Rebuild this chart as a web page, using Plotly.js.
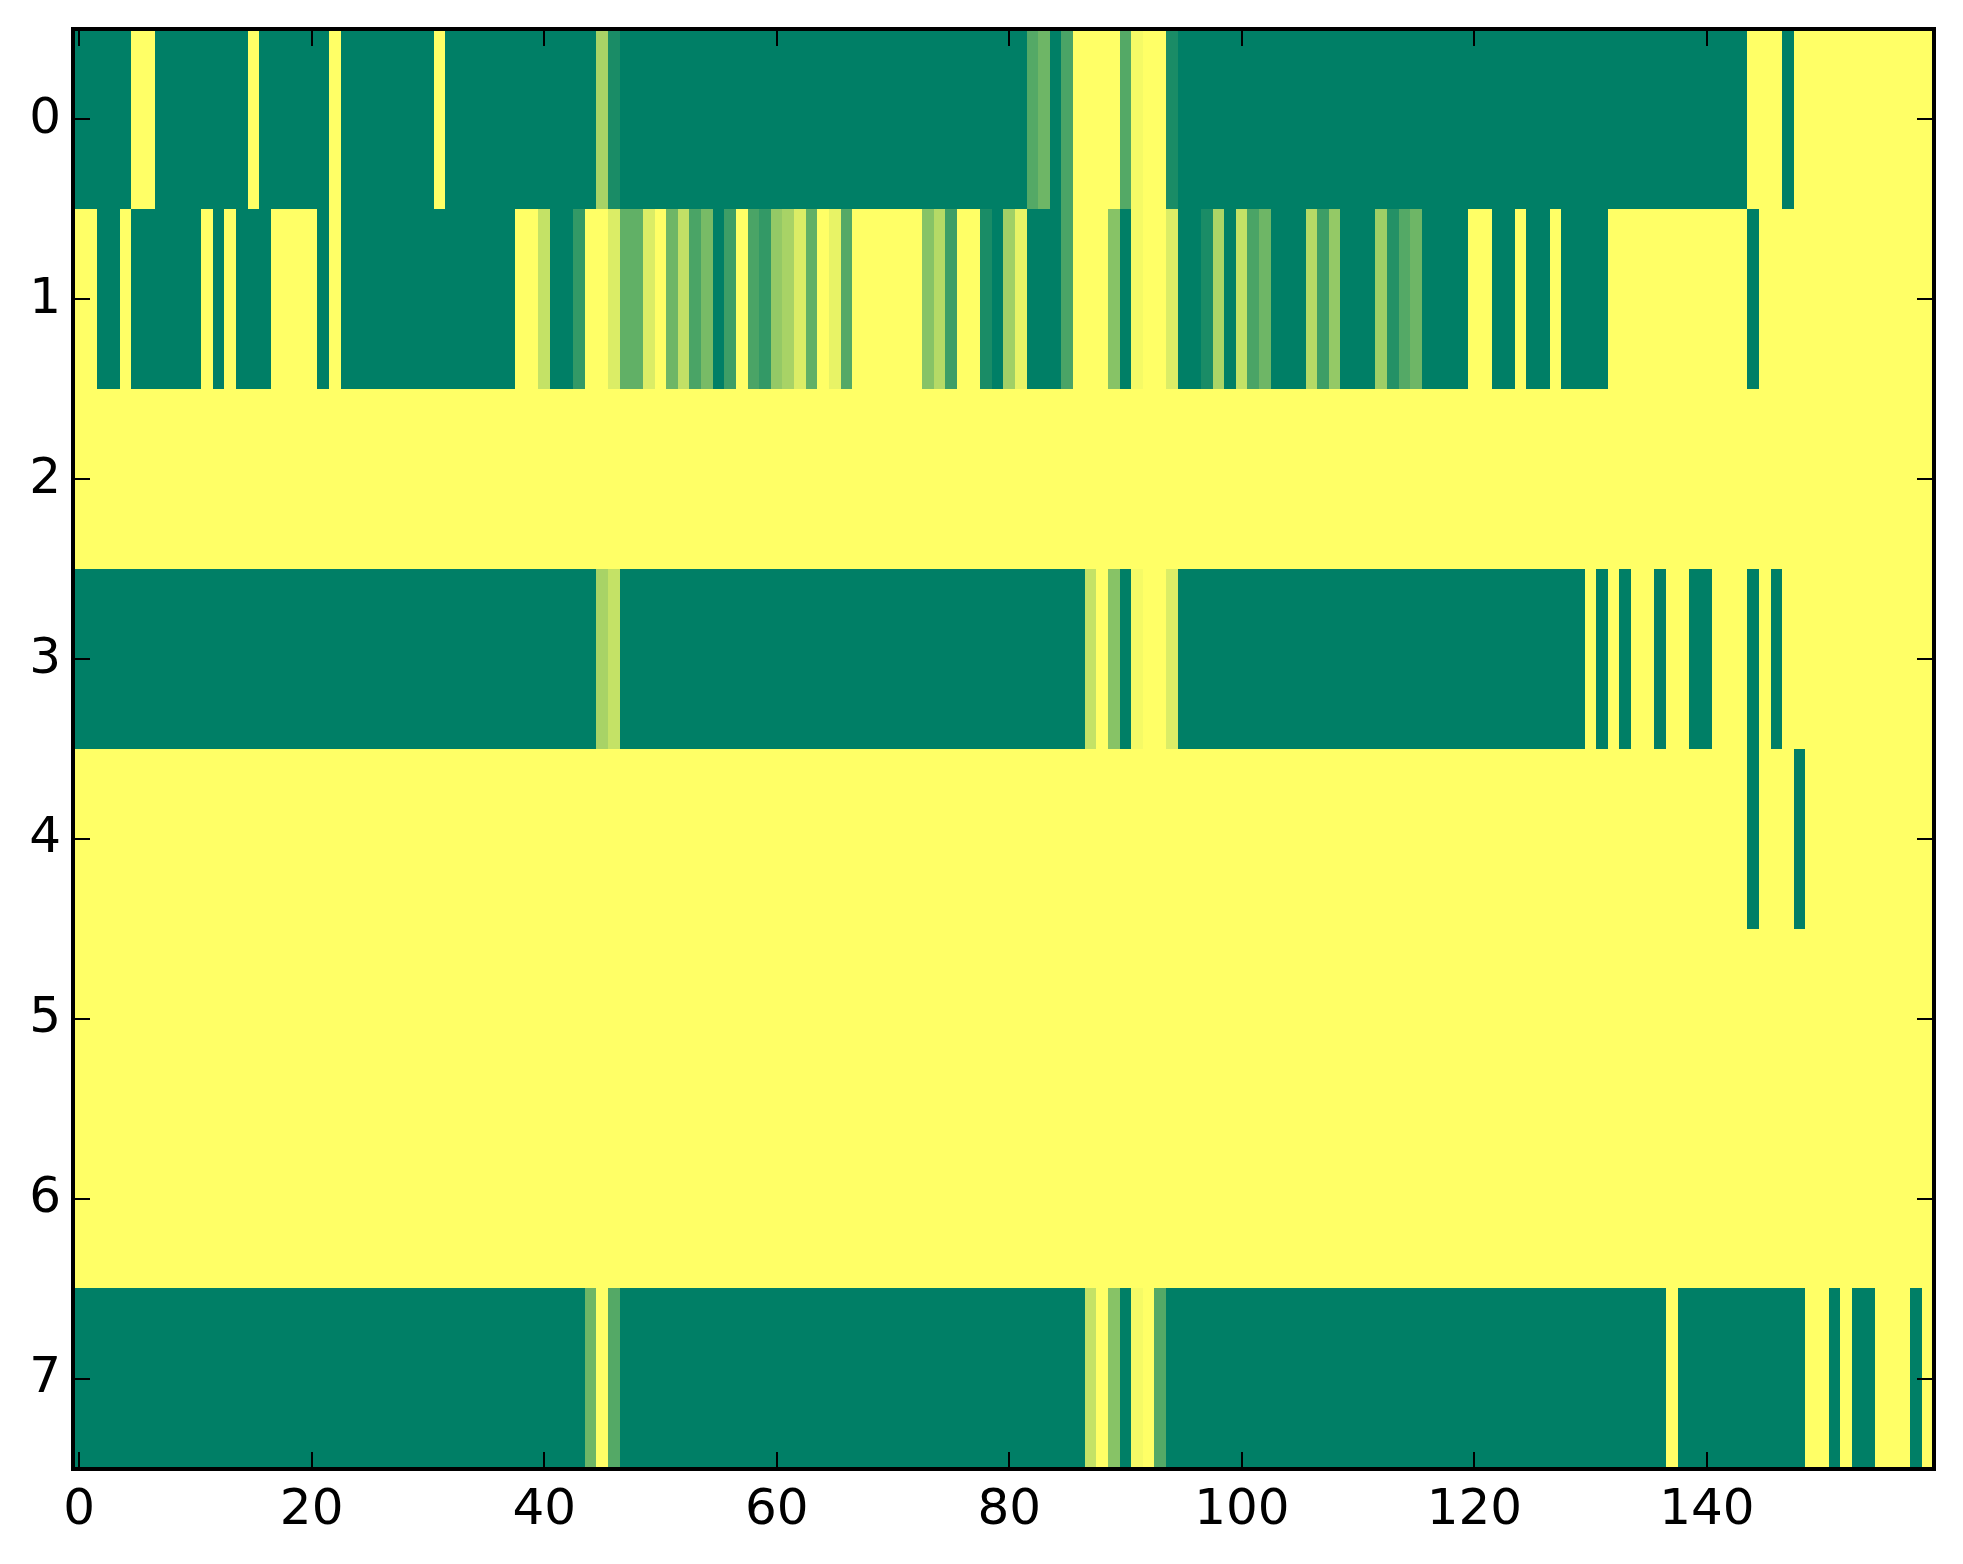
<!DOCTYPE html>
<html>
<head>
<meta charset="utf-8">
<script src="https://cdn.plot.ly/plotly-3.0.1.min.js"></script>
<style>html,body{margin:0;padding:0;background:#fff}</style>
</head>
<body>
<div id="chart" style="width:1963px;height:1564px"></div>
<script>
var row0 = [
0,0,0,0,0,1,1,0,0,0, 0,0,0,0,0,1,0,0,0,0, 0,0,1,0,0,0,0,0,0,0, 0,1,0,0,0,0,0,0,0,0,
0,0,0,0,0,.66,.10,0,0,0, 0,0,0,0,0,0,0,0,0,0, 0,0,0,0,0,0,0,0,0,0, 0,0,0,0,0,0,0,0,0,0,
0,0,.33,.43,0,.29,1,1,1,1, .33,.96,1,1,.10,0,0,0,0,0, 0,0,0,0,0,0,0,0,0,0, 0,0,0,0,0,0,0,0,0,0,
0,0,0,0,0,0,0,0,0,0, 0,0,0,0,0,0,0,0,0,0, 0,0,0,0,1,1,1,0,1,1, 1,1,1,1,1,1,1,1,1,1];
var row1 = [
1,1,0,0,1,0,0,0,0,0, 0,1,0,1,0,0,0,1,1,1, 1,0,1,0,0,0,0,0,0,0, 0,0,0,0,0,0,0,0,1,1,
.77,0,0,.2,1,1,.86,.38,.38,.86, 1,.43,.76,.29,.47,0,.24,1,.29,.2, .58,.66,.86,.38,1,.91,.33,1,1,1, 1,1,1,.53,.71,.24,1,1,.10,0,
.63,.91,0,0,0,.29,1,1,1,.53, 0,.96,1,1,.86,0,0,.10,.67,0, .77,.29,.43,0,0,0,.71,.24,.58,0, 0,0,.62,.14,.33,.43,0,0,0,0,
1,1,0,0,1,0,0,1,0,0, 0,0,1,1,1,1,1,1,1,1, 1,1,1,1,0,1,1,1,1,1, 1,1,1,1,1,1,1,1,1,1];
var row2 = [
1,1,1,1,1,1,1,1,1,1, 1,1,1,1,1,1,1,1,1,1, 1,1,1,1,1,1,1,1,1,1, 1,1,1,1,1,1,1,1,1,1,
1,1,1,1,1,1,1,1,1,1, 1,1,1,1,1,1,1,1,1,1, 1,1,1,1,1,1,1,1,1,1, 1,1,1,1,1,1,1,1,1,1,
1,1,1,1,1,1,1,1,1,1, 1,1,1,1,1,1,1,1,1,1, 1,1,1,1,1,1,1,1,1,1, 1,1,1,1,1,1,1,1,1,1,
1,1,1,1,1,1,1,1,1,1, 1,1,1,1,1,1,1,1,1,1, 1,1,1,1,1,1,1,1,1,1, 1,1,1,1,1,1,1,1,1,1];
var row3 = [
0,0,0,0,0,0,0,0,0,0, 0,0,0,0,0,0,0,0,0,0, 0,0,0,0,0,0,0,0,0,0, 0,0,0,0,0,0,0,0,0,0,
0,0,0,0,0,.66,.77,0,0,0, 0,0,0,0,0,0,0,0,0,0, 0,0,0,0,0,0,0,0,0,0, 0,0,0,0,0,0,0,0,0,0,
0,0,0,0,0,0,0,.77,1,.53, 0,.96,1,1,.86,0,0,0,0,0, 0,0,0,0,0,0,0,0,0,0, 0,0,0,0,0,0,0,0,0,0,
0,0,0,0,0,0,0,0,0,0, 1,0,1,0,1,1,0,1,1,0, 0,1,1,1,0,1,0,1,1,1, 1,1,1,1,1,1,1,1,1,1];
var row4 = [
1,1,1,1,1,1,1,1,1,1, 1,1,1,1,1,1,1,1,1,1, 1,1,1,1,1,1,1,1,1,1, 1,1,1,1,1,1,1,1,1,1,
1,1,1,1,1,1,1,1,1,1, 1,1,1,1,1,1,1,1,1,1, 1,1,1,1,1,1,1,1,1,1, 1,1,1,1,1,1,1,1,1,1,
1,1,1,1,1,1,1,1,1,1, 1,1,1,1,1,1,1,1,1,1, 1,1,1,1,1,1,1,1,1,1, 1,1,1,1,1,1,1,1,1,1,
1,1,1,1,1,1,1,1,1,1, 1,1,1,1,1,1,1,1,1,1, 1,1,1,1,0,1,1,1,0,1, 1,1,1,1,1,1,1,1,1,1];
var row5 = [
1,1,1,1,1,1,1,1,1,1, 1,1,1,1,1,1,1,1,1,1, 1,1,1,1,1,1,1,1,1,1, 1,1,1,1,1,1,1,1,1,1,
1,1,1,1,1,1,1,1,1,1, 1,1,1,1,1,1,1,1,1,1, 1,1,1,1,1,1,1,1,1,1, 1,1,1,1,1,1,1,1,1,1,
1,1,1,1,1,1,1,1,1,1, 1,1,1,1,1,1,1,1,1,1, 1,1,1,1,1,1,1,1,1,1, 1,1,1,1,1,1,1,1,1,1,
1,1,1,1,1,1,1,1,1,1, 1,1,1,1,1,1,1,1,1,1, 1,1,1,1,1,1,1,1,1,1, 1,1,1,1,1,1,1,1,1,1];
var row6 = [
1,1,1,1,1,1,1,1,1,1, 1,1,1,1,1,1,1,1,1,1, 1,1,1,1,1,1,1,1,1,1, 1,1,1,1,1,1,1,1,1,1,
1,1,1,1,1,1,1,1,1,1, 1,1,1,1,1,1,1,1,1,1, 1,1,1,1,1,1,1,1,1,1, 1,1,1,1,1,1,1,1,1,1,
1,1,1,1,1,1,1,1,1,1, 1,1,1,1,1,1,1,1,1,1, 1,1,1,1,1,1,1,1,1,1, 1,1,1,1,1,1,1,1,1,1,
1,1,1,1,1,1,1,1,1,1, 1,1,1,1,1,1,1,1,1,1, 1,1,1,1,1,1,1,1,1,1, 1,1,1,1,1,1,1,1,1,1];
var row7 = [
0,0,0,0,0,0,0,0,0,0, 0,0,0,0,0,0,0,0,0,0, 0,0,0,0,0,0,0,0,0,0, 0,0,0,0,0,0,0,0,0,0,
0,0,0,0,.43,1,.33,0,0,0, 0,0,0,0,0,0,0,0,0,0, 0,0,0,0,0,0,0,0,0,0, 0,0,0,0,0,0,0,0,0,0,
0,0,0,0,0,0,0,.77,1,.53, 0,.96,1,.33,0,0,0,0,0,0, 0,0,0,0,0,0,0,0,0,0, 0,0,0,0,0,0,0,0,0,0,
0,0,0,0,0,0,0,0,0,0, 0,0,0,0,0,0,0,1,0,0, 0,0,0,0,0,0,0,0,0,1, 1,0,1,0,0,1,1,1,0,1];

var xTicks = [0,20,40,60,80,100,120,140];
var yTicks = [0,1,2,3,4,5,6,7];
var summer = [[0,'#007f66'],[1,'#ffff66']];

var trace = {
  type:'heatmap',
  z:[row0,row1,row2,row3,row4,row5,row6,row7],
  zmin:0, zmax:1,
  colorscale:summer,
  showscale:false,
  zsmooth:false,
  hoverinfo:'skip'
};
var axisCommon = {
  ticks:'inside', ticklen:15, tickwidth:2, tickcolor:'#000',
  showline:true, linecolor:'#000', linewidth:4, mirror:'allticks',
  showgrid:false, zeroline:false, automargin:false,
  tickfont:{family:'DejaVu Sans', size:50, color:'#000'}
};
var layout = {
  width:1963, height:1564,
  margin:{l:75, r:31.2, t:30.7, b:96.7, pad:0},
  paper_bgcolor:'#fff', plot_bgcolor:'#fff',
  xaxis:Object.assign({}, axisCommon, {
    range:[-0.354,159.354], tickmode:'array', tickvals:xTicks, ticktext:xTicks.map(String),
    ticklabelstandoff:-7
  }),
  yaxis:Object.assign({}, axisCommon, {
    range:[7.4906,-0.4906], tickmode:'array', tickvals:yTicks, ticktext:yTicks.map(String),
    ticklabelstandoff:0.5, ticklabelshift:4
  })
};
Plotly.newPlot('chart',[trace],layout,{displayModeBar:false,staticPlot:true});
</script>
</body>
</html>
